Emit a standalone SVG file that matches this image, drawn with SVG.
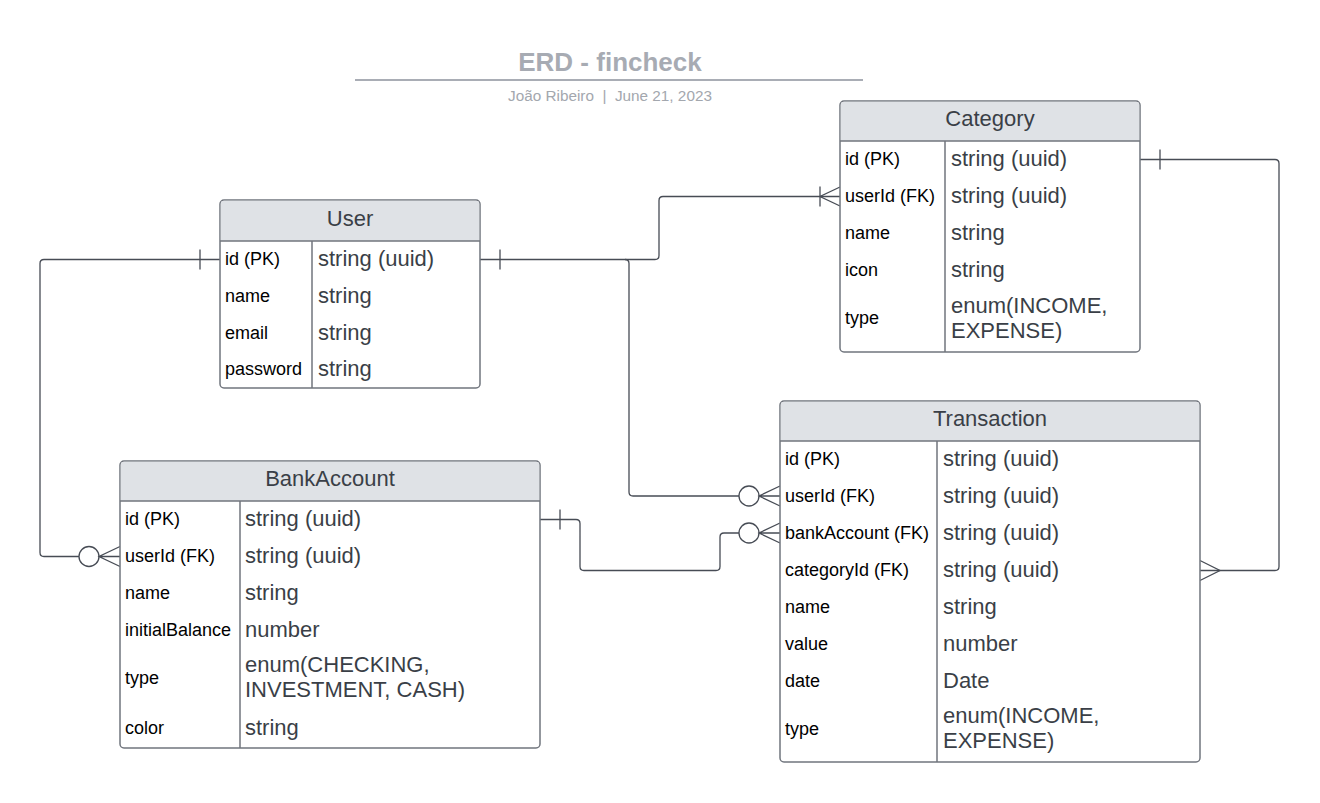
<svg xmlns="http://www.w3.org/2000/svg" width="1320" height="803" viewBox="0 0 1320 803">
<style>
.tbl{fill:#ffffff;stroke:#70757d;stroke-width:1.5}
.hdr{fill:#dfe2e6}
.ln{stroke:#70757d;stroke-width:1.5;fill:none}
.hd{font-family:"Liberation Sans",Arial,sans-serif;font-size:22px;fill:#3a3f47;text-anchor:middle}
.k{font-family:"Liberation Sans",Arial,sans-serif;font-size:18px;fill:#000000}
.v{font-family:"Liberation Sans",Arial,sans-serif;font-size:22px;fill:#3a3f47}
.c{stroke:#474c55;stroke-width:1.3;fill:none}
.o{stroke:#474c55;stroke-width:1.3;fill:#ffffff}
</style>
<rect width="1320" height="803" fill="#ffffff"/>
<g id="title">
<text x="610" y="71" font-family="Liberation Sans,Arial,sans-serif" font-size="26" font-weight="bold" fill="#a7abb3" text-anchor="middle">ERD - fincheck</text>
<line x1="355" y1="80" x2="863" y2="80" stroke="#a9adb5" stroke-width="2"/>
<text x="610" y="101" font-family="Liberation Sans,Arial,sans-serif" font-size="15.3" fill="#a3a7ae" text-anchor="middle" xml:space="preserve">João Ribeiro  |  June 21, 2023</text>
</g>
<g id="connectors">
<path class="c" d="M220 259.5 H44 Q40 259.5 40 263.5 V552.5 Q40 556.5 44 556.5 H79"/>
<line class="c" x1="200" y1="249.5" x2="200" y2="269.5"/>
<circle class="o" cx="89" cy="556.5" r="10"/>
<path class="c" d="M120 546.5 L99 556.5 L120 566.5 M99 556.5 H120"/>
<path class="c" d="M480 259.5 H655 Q659 259.5 659 255.5 V200.5 Q659 196.5 663 196.5 H840"/>
<line class="c" x1="500" y1="249.5" x2="500" y2="269.5"/>
<line class="c" x1="820" y1="186.5" x2="820" y2="206.5"/>
<path class="c" d="M840 187 L820 196.5 L840 206"/>
<path class="c" d="M625 259.5 Q629 259.5 629 263.5 V492 Q629 496 633 496 H739"/>
<circle class="o" cx="749" cy="496" r="10"/>
<path class="c" d="M780 486 L759 496 L780 506 M759 496 H780"/>
<path class="c" d="M540 519.5 H576 Q580 519.5 580 523.5 V566.5 Q580 570.5 584 570.5 H716 Q720 570.5 720 566.5 V537 Q720 533 724 533 H739"/>
<line class="c" x1="560" y1="509.5" x2="560" y2="529.5"/>
<circle class="o" cx="749" cy="533" r="10"/>
<path class="c" d="M780 523 L759 533 L780 543 M759 533 H780"/>
<path class="c" d="M1140 159.5 H1275 Q1279 159.5 1279 163.5 V566.5 Q1279 570.5 1275 570.5 H1200"/>
<line class="c" x1="1160" y1="149.5" x2="1160" y2="169.5"/>
<path class="c" d="M1200 560.5 L1220 570.5 L1200 580.5"/>
</g>
<g id="user">
<rect class="tbl" x="220" y="200" width="260" height="188" rx="4"/>
<path class="hdr" d="M224 200.75 H476 Q479.25 200.75 479.25 204 V241 H220.75 V204 Q220.75 200.75 224 200.75 Z"/>
<line class="ln" x1="220" y1="241" x2="480" y2="241"/>
<line class="ln" x1="312" y1="241" x2="312" y2="388"/>
<text class="hd" x="350" y="226">User</text>
<text class="k" x="225" y="264.5">id (PK)</text><text class="v" x="318" y="265.5">string (uuid)</text>
<text class="k" x="225" y="301.5">name</text><text class="v" x="318" y="302.5">string</text>
<text class="k" x="225" y="338.5">email</text><text class="v" x="318" y="339.5">string</text>
<text class="k" x="225" y="375">password</text><text class="v" x="318" y="376">string</text>
</g>
<g id="category">
<rect class="tbl" x="840" y="101" width="300" height="251" rx="4"/>
<path class="hdr" d="M844 101.75 H1136 Q1139.25 101.75 1139.25 105 V141 H840.75 V105 Q840.75 101.75 844 101.75 Z"/>
<line class="ln" x1="840" y1="141" x2="1140" y2="141"/>
<line class="ln" x1="945" y1="141" x2="945" y2="352"/>
<text class="hd" x="990" y="126">Category</text>
<text class="k" x="845" y="164.5">id (PK)</text><text class="v" x="951" y="165.5">string (uuid)</text>
<text class="k" x="845" y="201.5">userId (FK)</text><text class="v" x="951" y="202.5">string (uuid)</text>
<text class="k" x="845" y="238.5">name</text><text class="v" x="951" y="239.5">string</text>
<text class="k" x="845" y="275.5">icon</text><text class="v" x="951" y="276.5">string</text>
<text class="k" x="845" y="323.5">type</text><text class="v" x="951" y="313">enum(INCOME,</text><text class="v" x="951" y="338">EXPENSE)</text>
</g>
<g id="bankaccount">
<rect class="tbl" x="120" y="461" width="420" height="287" rx="4"/>
<path class="hdr" d="M124 461.75 H536 Q539.25 461.75 539.25 465 V501 H120.75 V465 Q120.75 461.75 124 461.75 Z"/>
<line class="ln" x1="120" y1="501" x2="540" y2="501"/>
<line class="ln" x1="240" y1="501" x2="240" y2="748"/>
<text class="hd" x="330" y="486">BankAccount</text>
<text class="k" x="125" y="524.5">id (PK)</text><text class="v" x="245" y="525.5">string (uuid)</text>
<text class="k" x="125" y="561.5">userId (FK)</text><text class="v" x="245" y="562.5">string (uuid)</text>
<text class="k" x="125" y="598.5">name</text><text class="v" x="245" y="599.5">string</text>
<text class="k" x="125" y="635.5">initialBalance</text><text class="v" x="245" y="636.5">number</text>
<text class="k" x="125" y="684">type</text><text class="v" x="245" y="672">enum(CHECKING,</text><text class="v" x="245" y="697">INVESTMENT, CASH)</text>
<text class="k" x="125" y="733.5">color</text><text class="v" x="245" y="734.5">string</text>
</g>
<g id="transaction">
<rect class="tbl" x="780" y="401" width="420" height="361" rx="4"/>
<path class="hdr" d="M784 401.75 H1196 Q1199.25 401.75 1199.25 405 V441 H780.75 V405 Q780.75 401.75 784 401.75 Z"/>
<line class="ln" x1="780" y1="441" x2="1200" y2="441"/>
<line class="ln" x1="937" y1="441" x2="937" y2="762"/>
<text class="hd" x="990" y="426">Transaction</text>
<text class="k" x="785" y="464.5">id (PK)</text><text class="v" x="943" y="465.5">string (uuid)</text>
<text class="k" x="785" y="501.5">userId (FK)</text><text class="v" x="943" y="502.5">string (uuid)</text>
<text class="k" x="785" y="538.5">bankAccount (FK)</text><text class="v" x="943" y="539.5">string (uuid)</text>
<text class="k" x="785" y="575.5">categoryId (FK)</text><text class="v" x="943" y="576.5">string (uuid)</text>
<text class="k" x="785" y="612.5">name</text><text class="v" x="943" y="613.5">string</text>
<text class="k" x="785" y="649.5">value</text><text class="v" x="943" y="650.5">number</text>
<text class="k" x="785" y="686.5">date</text><text class="v" x="943" y="687.5">Date</text>
<text class="k" x="785" y="735">type</text><text class="v" x="943" y="723">enum(INCOME,</text><text class="v" x="943" y="748">EXPENSE)</text>
</g>
</svg>
